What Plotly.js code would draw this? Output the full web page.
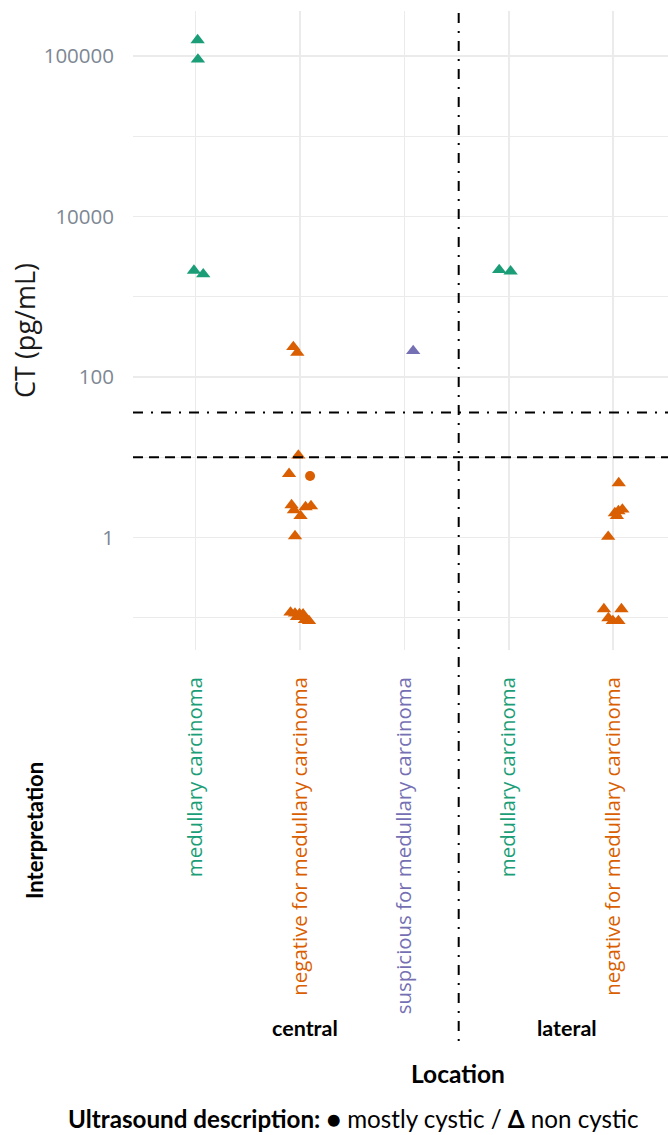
<!DOCTYPE html>
<html>
<head>
<meta charset="utf-8">
<script src="https://cdn.plot.ly/plotly-3.0.1.min.js"></script>
<style>html,body{margin:0;padding:0;background:#fff;}#chart{width:668px;height:1135px;}</style>
</head>
<body>
<div id="chart"></div>
<script>
// ---- data ----
const categoryNames = ["medullary carcinoma", "negative for medullary carcinoma", "suspicious for medullary carcinoma", "medullary carcinoma", "negative for medullary carcinoma"];
const categoryLocation = ["central", "central", "central", "lateral", "lateral"];
const categoryInterpretation = ["medullary", "negative", "suspicious", "medullary", "negative"];

// each point: category index, horizontal jitter, CT value (pg/mL), cystic flag
const pointCategory = [0,0,0,0, 1,1,1,1,1,1,1,1,1,1,1,1,1,1,1,1,1,1, 2, 3,3, 4,4,4,4,4,4,4,4,4,4,4];
const pointJitter = [0.019,0.022,-0.016,0.073,
  -0.064,-0.026,-0.016,-0.105,-0.081,-0.058,0.053,0.105,0.005,-0.048,-0.091,-0.048,-0.005,0.029,0.048,0.086,-0.029,0.096,
  0.084,
  -0.092,0.017,
  0.053,0.016,0.05,0.088,0.035,-0.048,-0.089,0.079,-0.046,-0.003,0.05];
const pointCT = [1580000,908000,2120,1910,
  237,201,10.5,6.2,2.53,2.19,2.39,2.46,1.85,1.04,0.116,0.113,0.111,0.110,0.0936,0.091,0.102,5.82,
  211,
  2160,2070,
  4.76,2.01,2.13,2.23,1.85,1.02,0.128,0.128,0.099,0.091,0.091];
const pointCystic = [0,0,0,0, 0,0,0,0,0,0,0,0,0,0,0,0,0,0,0,0,0,1, 0, 0,0, 0,0,0,0,0,0,0,0,0,0,0];

const yTickValues = [1, 100, 10000, 1000000];
const yTickLabels = ["1", "100", "10000", "100000"];
const yMinorValues = [0.1, 10, 1000, 100000];
const thresholdDashed = 10;
const thresholdDashDot = 36;
const locationDivider = 2.52;

// ---- styles ----
const colorOf = {medullary: "#1b9e77", negative: "#d95f02", suspicious: "#7570b3"};
const interpOrder = ["medullary", "negative", "suspicious"];

const traces = interpOrder.map(function (interp) {
  const xs = [], ys = [], sym = [], sz = [];
  pointCategory.forEach(function (c, i) {
    if (categoryInterpretation[c] !== interp) return;
    xs.push(c + pointJitter[i]);
    ys.push(pointCT[i]);
    sym.push(pointCystic[i] ? "circle" : "triangle-up");
    sz.push(pointCystic[i] ? 10 : 12.5);
  });
  return {
    type: "scatter", mode: "markers", x: xs, y: ys, name: interp,
    marker: {color: colorOf[interp], symbol: sym, size: sz, opacity: 1, line: {width: 0}},
    showlegend: false, hoverinfo: "x+y"
  };
});

const xRange = [-0.6, 4.525];
const tickText = categoryNames.map(function (n, i) {
  return '<span style="color:' + colorOf[categoryInterpretation[i]] + '">' + n + '</span>';
});

const W = 668, H = 1135, mL = 133, mR = 0, mT = 11, mB = 485;
const pw = W - mL - mR, ph = H - mT - mB;
function px2x(p) { return (p - mL) / pw; }
function px2y(p) { return (H - mB - p) / ph; }
const dividerPaper = (locationDivider - xRange[0]) / (xRange[1] - xRange[0]);

const boldFamily = "Lato";

const layout = {
  width: W, height: H,
  margin: {l: mL, r: mR, t: mT, b: mB},
  paper_bgcolor: "#fff", plot_bgcolor: "#fff",
  showlegend: false,
  xaxis: {
    range: xRange, tickmode: "array", tickvals: [0, 1, 2, 3, 4], ticktext: tickText,
    tickangle: -90, ticks: "", ticklabelstandoff: 22,
    tickfont: {family: "Open Sans", size: 20.4},
    showgrid: true, gridcolor: "#ebebeb", gridwidth: 1.5,
    zeroline: false, showline: false, automargin: false, fixedrange: true
  },
  yaxis: {
    type: "log", range: [-1.403, 6.561],
    tickmode: "array", tickvals: yTickValues, ticktext: yTickLabels,
    ticks: "", ticklabelstandoff: 18,
    tickfont: {family: "Open Sans", size: 20.5, color: "#7d8793"},
    showgrid: true, gridcolor: "#ebebeb", gridwidth: 1.5,
    minor: {tickmode: "array", tickvals: yMinorValues, showgrid: true, gridcolor: "#ebebeb", gridwidth: 1.2, ticks: ""},
    zeroline: false, showline: false, automargin: true, fixedrange: true,
    title: {text: "CT (pg/mL)", standoff: 0, font: {family: "Open Sans", size: 27, color: "#1a1a1a"}}
  },
  shapes: [
    {type: "line", xref: "paper", yref: "y", x0: 0, x1: 1, y0: thresholdDashed, y1: thresholdDashed,
     line: {color: "#000", width: 2, dash: "10px,6px"}},
    {type: "line", xref: "paper", yref: "y", x0: 0, x1: 1, y0: thresholdDashDot, y1: thresholdDashDot,
     line: {color: "#000", width: 2, dash: "10px,8px,2px,8px"}},
    {type: "line", xref: "paper", yref: "paper", x0: dividerPaper, x1: dividerPaper, y0: 0.997, y1: px2y(1047),
     line: {color: "#000", width: 2, dash: "10px,8px,2px,8px"}}
  ],
  annotations: [
    {text: "<b>Interpretation</b>", xref: "paper", yref: "paper", x: px2x(35), y: px2y(831), textangle: -90,
     showarrow: false, xanchor: "center", yanchor: "middle", font: {family: boldFamily, size: 22, color: "#000"}},
    {text: "<b>central</b>", xref: "paper", yref: "paper", x: px2x(305), y: px2y(1028),
     showarrow: false, xanchor: "center", yanchor: "middle", font: {family: boldFamily, size: 21.5, color: "#000"}},
    {text: "<b>lateral</b>", xref: "paper", yref: "paper", x: px2x(567), y: px2y(1028),
     showarrow: false, xanchor: "center", yanchor: "middle", font: {family: boldFamily, size: 21.5, color: "#000"}},
    {text: "<b>Location</b>", xref: "paper", yref: "paper", x: px2x(458), y: px2y(1073),
     showarrow: false, xanchor: "center", yanchor: "middle", font: {family: boldFamily, size: 24.5, color: "#000"}},
    {text: "<b>Ultrasound description:</b> ● mostly cystic / <b>Δ</b> non cystic", xref: "paper", yref: "paper",
     x: px2x(353), y: px2y(1118), showarrow: false, xanchor: "center", yanchor: "middle",
     font: {family: boldFamily, size: 24.2, color: "#000"}}
  ]
};

Plotly.newPlot("chart", traces, layout, {displayModeBar: false, staticPlot: true});
</script>
</body>
</html>
